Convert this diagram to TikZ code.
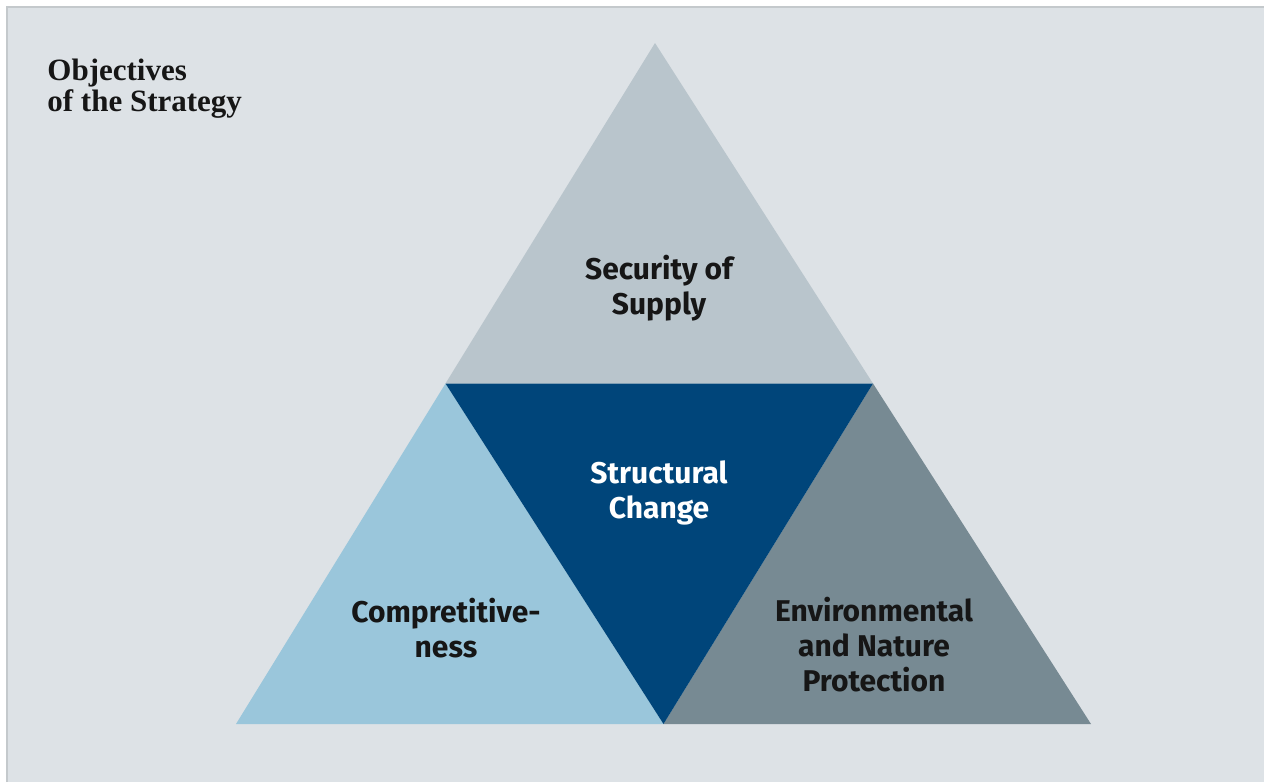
\documentclass[tikz,border=0pt]{standalone}
\usepackage{fontspec}
\setmainfont{Fira Sans}
\newfontfamily\headfont{Liberation Serif}
\usetikzlibrary{calc,positioning}
\definecolor{panelbg}{HTML}{DDE2E6}
\definecolor{panelrule}{HTML}{C4C9CC}
\definecolor{topgrey}{HTML}{B9C5CC}
\definecolor{coreblue}{HTML}{00457A}
\definecolor{leftblue}{HTML}{9AC6DB}
\definecolor{rightgrey}{HTML}{778A93}
\definecolor{labeltext}{HTML}{161616}

\begin{document}
\begin{tikzpicture}[x=0.5pt,y=-0.5pt,
    part/.style={font=\bfseries\fontsize{15}{17.5}\selectfont, align=center, text=labeltext, inner sep=0pt},
    heading/.style={font=\headfont\bfseries\fontsize{15.5}{15.5}\selectfont, align=left, text=labeltext, inner sep=0pt}]
  \useasboundingbox (0,0) rectangle (1264,782);
  % panel
  \fill[white] (0,0) rectangle (1264,782);
  \fill[panelbg] (7,7) rectangle (1264,782);
  \draw[panelrule, line width=0.8pt] (7,782) -- (7,7) -- (1264,7);

  % corners of the pyramid
  \coordinate (apex) at (655,43);
  \coordinate (bl) at (236,724);
  \coordinate (br) at (1091,724);
  \coordinate (ml) at ($(apex)!0.5!(bl)$);
  \coordinate (mr) at ($(apex)!0.5!(br)$);
  \coordinate (mb) at ($(bl)!0.5!(br)$);

  \fill[topgrey] (apex) -- (ml) -- (mr) -- cycle;
  \fill[leftblue] (ml) -- (bl) -- (mb) -- cycle;
  \fill[rightgrey] (mr) -- (mb) -- (br) -- cycle;
  \fill[coreblue] (ml) -- (mr) -- (mb) -- cycle;

  \node[heading, anchor=north west] (title) at (47,59) {Objectives\\of the Strategy};
  \node[part] (supply) at (659,288) {Security of\\Supply};
  \node[part, text=white] (change) at (659,493) {Structural\\Change};
  \node[part] (compete) at (446,628) {Compretitive-\\ness};
  \node[part] (nature) at (874,645) {Environmental\\and Nature\\Protection};
\end{tikzpicture}
\end{document}
